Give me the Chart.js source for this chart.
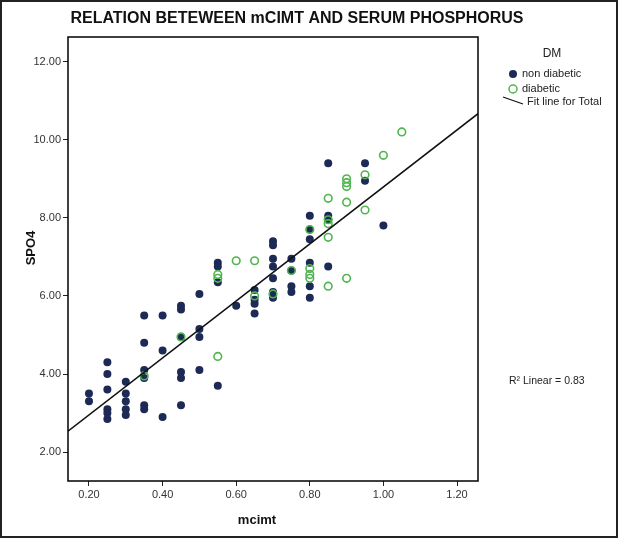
<!DOCTYPE html>
<html>
<head>
<meta charset="utf-8">
<script src="https://cdn.jsdelivr.net/npm/chart.js@4.4.1/dist/chart.umd.min.js"></script>
<style>
  html, body { margin: 0; padding: 0; background: #fff; }
  #wrap { width: 618px; height: 538px; position: relative; }
</style>
</head>
<body>
<div id="wrap"><canvas id="grafico" width="618" height="538"></canvas></div>
<script>
/* dados */
const chartTitle = 'RELATION BETEWEEN mCIMT AND SERUM PHOSPHORUS';
const xTitle = 'mcimt';
const yTitle = 'SPO4';
const legendTitle = 'DM';
const seriesNames = ['non diabetic', 'diabetic', 'Fit line for Total'];
const r2Text = 'R\u00B2 Linear = 0.83';

const xTicks = [0.2, 0.4, 0.6, 0.8, 1.0, 1.2];
const yTicks = [2, 4, 6, 8, 10, 12];

const nonDiabeticX = [0.20, 0.20,
  0.25, 0.25, 0.25, 0.25, 0.25, 0.25,
  0.30, 0.30, 0.30, 0.30, 0.30,
  0.35, 0.35, 0.35, 0.35, 0.35, 0.35,
  0.40, 0.40, 0.40,
  0.45, 0.45, 0.45, 0.45, 0.45, 0.45,
  0.50, 0.50, 0.50, 0.50,
  0.55, 0.55, 0.55, 0.55,
  0.60,
  0.65, 0.65, 0.65, 0.65,
  0.70, 0.70, 0.70, 0.70, 0.70, 0.70, 0.70,
  0.75, 0.75, 0.75, 0.75,
  0.80, 0.80, 0.80, 0.80, 0.80, 0.80,
  0.85, 0.85, 0.85, 0.85,
  0.95, 0.95,
  1.00];
const nonDiabeticY = [3.5, 3.3,
  4.3, 4.0, 3.6, 3.1, 3.0, 2.85,
  3.8, 3.5, 3.3, 3.1, 2.95,
  5.5, 4.8, 4.1, 3.9, 3.2, 3.1,
  5.5, 4.6, 2.9,
  5.75, 5.65, 4.95, 4.05, 3.9, 3.2,
  6.05, 5.15, 4.95, 4.1,
  6.85, 6.75, 6.35, 3.7,
  5.75,
  6.15, 5.9, 5.8, 5.55,
  7.4, 7.3, 6.95, 6.75, 6.45, 6.1, 5.95,
  6.95, 6.65, 6.25, 6.1,
  8.05, 7.7, 7.45, 6.85, 6.25, 5.95,
  9.4, 8.05, 7.95, 6.75,
  9.4, 8.95,
  7.8];

const diabeticX = [0.35, 0.45,
  0.55, 0.55, 0.55,
  0.60,
  0.65, 0.65,
  0.70, 0.75,
  0.80, 0.80, 0.80, 0.80,
  0.85, 0.85, 0.85, 0.85, 0.85,
  0.90, 0.90, 0.90, 0.90, 0.90,
  0.95, 0.95,
  1.00, 1.05];
const diabeticY = [3.95, 4.95,
  6.55, 6.45, 4.45,
  6.9,
  6.9, 6.0,
  6.05, 6.65,
  7.7, 6.7, 6.55, 6.45,
  8.5, 7.95, 7.85, 7.5, 6.25,
  9.0, 8.9, 8.8, 8.4, 6.45,
  9.1, 8.2,
  9.6, 10.2];

const fitIntercept = 1.49;
const fitSlope = 7.3;

const xMin = 0.143, xMax = 1.257;
const yMin = 1.26, yMax = 12.63;

const navy = '#1c2a55';
const green = '#4fb54f';
const fonte = '"Liberation Sans", Arial, sans-serif';

function pontos(xs, ys) {
  return xs.map((x, i) => ({ x: x, y: ys[i] }));
}

/* textos, legenda e moldura */
const extras = {
  id: 'extras',
  afterDraw(chart) {
    const ctx = chart.ctx;
    const a = chart.chartArea;
    ctx.save();
    // moldura da área do gráfico
    ctx.strokeStyle = '#000';
    ctx.lineWidth = 1.5;
    ctx.strokeRect(a.left, a.top, a.right - a.left, a.bottom - a.top);
    // moldura externa
    ctx.lineWidth = 2;
    ctx.strokeStyle = '#222';
    ctx.strokeRect(1, 1, chart.width - 2, chart.height - 2);

    ctx.fillStyle = '#111';
    ctx.textAlign = 'center';
    ctx.textBaseline = 'middle';
    ctx.font = 'bold 16px ' + fonte;
    ctx.fillText(chartTitle, 297, 19);

    ctx.font = 'bold 13px ' + fonte;
    ctx.fillText(xTitle, 257, 520);
    ctx.save();
    ctx.translate(31, 248);
    ctx.rotate(-Math.PI / 2);
    ctx.fillText(yTitle, 0, 0);
    ctx.restore();

    // legenda
    ctx.font = '12px ' + fonte;
    ctx.fillStyle = '#222';
    ctx.fillText(legendTitle, 552, 54);
    ctx.textAlign = 'left';
    ctx.font = '11px ' + fonte;
    ctx.fillText(seriesNames[0], 522, 74);
    ctx.fillText(seriesNames[1], 522, 89);
    ctx.fillText(seriesNames[2], 527, 102);

    ctx.beginPath();
    ctx.arc(513, 74, 4, 0, Math.PI * 2);
    ctx.fillStyle = navy;
    ctx.fill();
    ctx.beginPath();
    ctx.arc(513, 89, 4, 0, Math.PI * 2);
    ctx.strokeStyle = green;
    ctx.lineWidth = 1.5;
    ctx.stroke();
    ctx.beginPath();
    ctx.moveTo(503, 97);
    ctx.lineTo(523, 104);
    ctx.strokeStyle = '#111';
    ctx.lineWidth = 1.2;
    ctx.stroke();

    ctx.fillStyle = '#222';
    ctx.font = '10.5px ' + fonte;
    ctx.fillText(r2Text, 509, 381);
    ctx.restore();
  }
};

const grafico = document.getElementById('grafico');

new Chart(grafico, {
  type: 'scatter',
  data: {
    datasets: [{
      label: seriesNames[2],
      type: 'line',
      data: [
        { x: xMin, y: fitIntercept + fitSlope * xMin },
        { x: xMax, y: fitIntercept + fitSlope * xMax }
      ],
      borderColor: '#111',
      borderWidth: 1.5,
      pointRadius: 0,
      fill: false,
      order: 0
    }, {
      label: seriesNames[1],
      data: pontos(diabeticX, diabeticY),
      pointRadius: 3.8,
      pointBackgroundColor: 'rgba(0,0,0,0)',
      pointBorderColor: green,
      pointBorderWidth: 1.6,
      order: 1
    }, {
      label: seriesNames[0],
      data: pontos(nonDiabeticX, nonDiabeticY),
      pointRadius: 4,
      pointBackgroundColor: navy,
      pointBorderColor: navy,
      pointBorderWidth: 0,
      order: 2
    }]
  },
  options: {
    responsive: false,
    animation: false,
    devicePixelRatio: 1,
    layout: {
      padding: { left: 0, top: 37, right: 140, bottom: 0 }
    },
    scales: {
      x: {
        type: 'linear',
        min: xMin,
        max: xMax,
        afterFit: (s) => { s.height = 57; },
        afterBuildTicks: (s) => { s.ticks = xTicks.map(v => ({ value: v })); },
        grid: { drawOnChartArea: false, tickLength: 5, color: '#000', tickColor: '#222' },
        border: { display: false },
        ticks: {
          color: '#333',
          font: { family: fonte, size: 11 },
          padding: 2,
          maxRotation: 0,
          callback: (v) => v.toFixed(2)
        }
      },
      y: {
        type: 'linear',
        min: yMin,
        max: yMax,
        afterFit: (s) => { s.width = 68; },
        afterBuildTicks: (s) => { s.ticks = yTicks.map(v => ({ value: v })); },
        grid: { drawOnChartArea: false, tickLength: 5, color: '#000', tickColor: '#222' },
        border: { display: false },
        ticks: {
          color: '#333',
          font: { family: fonte, size: 11 },
          padding: 2,
          callback: (v) => v.toFixed(2)
        }
      }
    },
    plugins: {
      legend: { display: false },
      title: { display: false },
      tooltip: { enabled: false }
    }
  },
  plugins: [extras]
});
</script>
</body>
</html>
